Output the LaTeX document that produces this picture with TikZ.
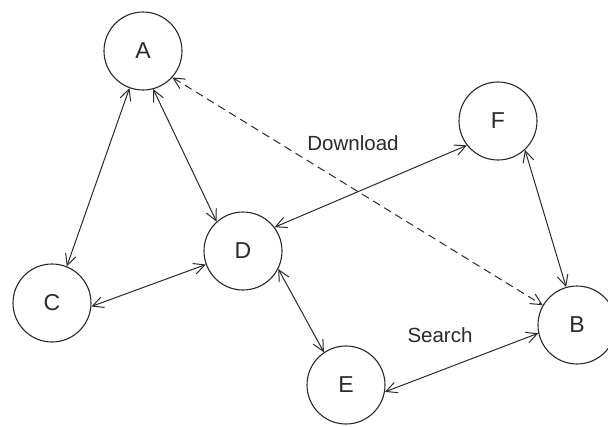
\documentclass[tikz,border=0pt]{standalone}
\usepackage{fontspec}
\setmainfont{Liberation Sans}
\usetikzlibrary{arrows.meta}
\definecolor{ink}{HTML}{2A2A2A}
\begin{document}
\begin{tikzpicture}[x=1pt,y=-1pt,
  peer/.style={circle,draw=ink,line width=1.1pt,minimum size=78pt,inner sep=0pt,font=\fontsize{23}{23}\selectfont,text=ink},
  link/.style={draw=ink,line width=1pt,{Straight Barb[length=11pt,width=11pt]}-{Straight Barb[length=11pt,width=11pt]}},
  lbl/.style={font=\fontsize{20.5}{20.5}\selectfont,text=ink,inner sep=0pt}]
\useasboundingbox (0,0) rectangle (608,426);
\node[peer] (A) at (143,51) {A};
\node[peer] (F) at (498,121) {F};
\node[peer] (D) at (243,251) {D};
\node[peer] (C) at (52,303) {C};
\node[peer] (B) at (577,325) {B};
\node[peer] (E) at (346,385) {E};
\draw[link] (A.250) -- (C.68);
\draw[link] (A.285) -- (D.132);
\draw[link,dashed,dash pattern=on 8pt off 5pt] (A.-42) -- (B.150);
\draw[link] (D.37) -- (F.218);
\draw[link] (D.200) -- (C.-5);
\draw[link] (D.-27) -- (E.124);
\draw[link] (F.-47) -- (B.106);
\draw[link] (E.-10) -- (B.192);
\node[lbl] (dl) at (353,143) {Download};
\node[lbl] (sr) at (440,335) {Search};
\end{tikzpicture}
\end{document}
